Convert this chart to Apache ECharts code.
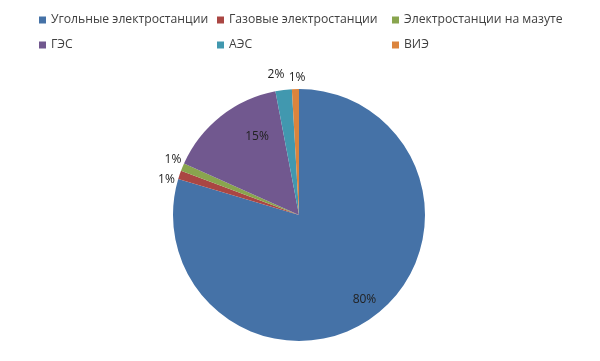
<!DOCTYPE html>
<html><head><meta charset="utf-8">
<script src="https://cdn.jsdelivr.net/npm/echarts@6/dist/echarts.min.js"></script>
<style>html,body{margin:0;padding:0;background:#fff}#c{width:600px;height:361px}</style>
</head><body><div id="c"></div>
<script>
const categories = ['Угольные электростанции','Газовые электростанции','Электростанции на мазуте','ГЭС','АЭС','ВИЭ'];
const shares = [79.6, 1.1, 1.0, 15.3, 2.1, 0.9];
const colors = ['#4572A7','#AA4643','#89A54E','#71588F','#4198AF','#DB843D'];

const legendPos = [[34,9],[212,9],[387,9],[34,34],[212,34],[387,34]];
const labelCfg = [
  {position:'inside', offset:[26,32]},
  {position:'inside', offset:[-70,-14]},
  {position:'inside', offset:[-65,-30]},
  {position:'inside', offset:[-1,-27]},
  {position:'inside', offset:[-15,-75]},
  {position:'inside', offset:[0,-71]}
];

const chart = echarts.init(document.getElementById('c'));
chart.setOption({
  animation:false,
  color: colors,
  legend: categories.map((n,i)=>({
    data:[n], left:legendPos[i][0], top:legendPos[i][1], itemWidth:7, itemHeight:7, itemGap:5,
    icon:'rect', selectedMode:false,
    textStyle:{fontFamily:'Open Sans', fontSize:12.2, color:'#404040'}
  })),
  series:[{
    type:'pie', center:[299,215], radius:126, startAngle:90, clockwise:true,
    avoidLabelOverlap:false,
    labelLayout:{hideOverlap:false},
    itemStyle:{borderWidth:0},
    labelLine:{show:false},
    label:{fontFamily:'Open Sans', fontSize:12, color:'#222',
      formatter:p=>Math.round(p.percent)+'%'},
    data: categories.map((n,i)=>({name:n, value:shares[i], label:labelCfg[i]}))
  }]
});
</script></body></html>
